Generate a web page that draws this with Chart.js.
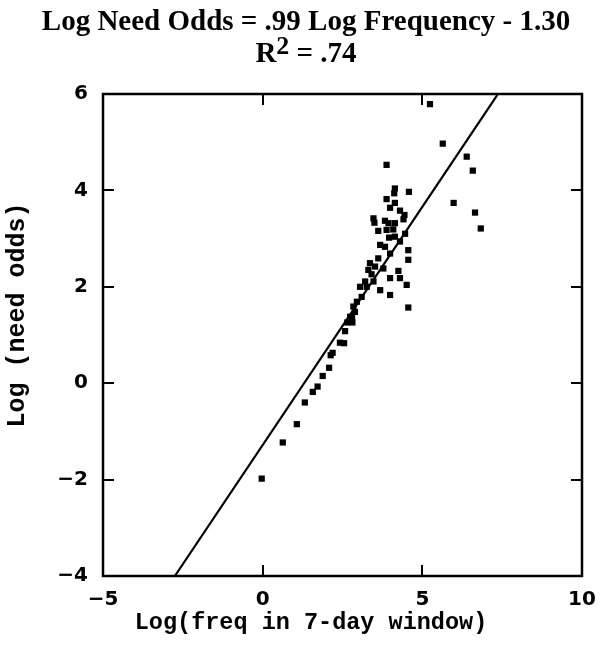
<!DOCTYPE html>
<html>
<head>
<meta charset="utf-8">
<script src="https://cdn.jsdelivr.net/npm/chart.js@4/dist/chart.umd.min.js"></script>
<style>
html,body{margin:0;padding:0;background:#fff;}
#wrap{width:603px;height:646px;}
</style>
</head>
<body>
<div id="wrap"><canvas id="c" width="603" height="646"></canvas></div>
<script>
const titleLine1 = "Log Need Odds = .99 Log Frequency - 1.30";
const titleLine2 = ["R", "2", " = .74"];
const xAxisTitle = "Log(freq in 7-day window)";
const yAxisTitle = "Log (need odds)";
const xTicks = [-5, 0, 5, 10];
const yTicks = [-4, -2, 0, 2, 4, 6];

const pointX = [5.24,5.64,3.88,6.39,6.58,5.98,6.65,6.83,
  4.14,4.58,4.12,3.88,4.14,3.99,4.30,4.44,4.41,3.47,3.50,3.83,3.94,4.14,3.62,3.88,4.09,3.96,4.46,
  4.14,4.30,3.68,3.83,4.56,3.99,3.62,4.56,3.36,3.52,3.78,4.25,3.31,3.41,3.99,4.30,3.21,3.47,3.05,3.26,3.68,4.51,3.99,3.10,2.95,2.84,4.56,2.89,2.74,
  2.80,2.81,2.65,2.58,2.42,2.55,2.19,2.13,2.08,1.88,1.72,1.57,1.32,1.07,0.63,-0.03];
const pointY = [5.79,4.97,4.53,4.70,4.41,3.74,3.54,3.21,
  4.04,3.97,3.94,3.82,3.74,3.64,3.58,3.49,3.40,3.42,3.33,3.37,3.32,3.32,3.16,3.18,3.19,3.02,3.10,
  3.04,2.94,2.87,2.83,2.76,2.69,2.59,2.56,2.49,2.42,2.38,2.33,2.35,2.26,2.18,2.18,2.11,2.11,2.00,2.00,1.93,2.04,1.83,1.79,1.69,1.59,1.57,1.48,1.38,
  1.37,1.26,1.26,1.08,0.84,0.83,0.63,0.58,0.32,0.15,-0.07,-0.18,-0.40,-0.85,-1.23,-1.98];
const fitX = [-2.75, 7.35];
const fitY = [-4.0, 5.98];

const pts = pointX.map((x, i) => ({x: x, y: pointY[i]}));
const fit = fitX.map((x, i) => ({x: x, y: fitY[i]}));

const fmtTick = v => (v < 0 ? '\u2212' + Math.abs(v) : String(v));

const framePlugin = {
  id: 'frame',
  afterDraw(chart) {
    const ctx = chart.ctx;
    const a = chart.chartArea;
    const xs = chart.scales.x, ys = chart.scales.y;
    ctx.save();
    ctx.strokeStyle = '#000';
    ctx.lineWidth = 2.5;
    ctx.strokeRect(a.left, a.top, a.right - a.left, a.bottom - a.top);
    ctx.lineWidth = 2;
    const tl = 11;
    ctx.beginPath();
    xTicks.forEach(v => {
      if (v === xs.min || v === xs.max) return;
      const px = Math.round(xs.getPixelForValue(v));
      ctx.moveTo(px, a.bottom); ctx.lineTo(px, a.bottom - tl);
      ctx.moveTo(px, a.top); ctx.lineTo(px, a.top + tl);
    });
    yTicks.forEach(v => {
      if (v === ys.min || v === ys.max) return;
      const py = Math.round(ys.getPixelForValue(v));
      ctx.moveTo(a.right, py); ctx.lineTo(a.right - tl, py);
      ctx.moveTo(a.left, py); ctx.lineTo(a.left + tl, py);
    });
    ctx.stroke();
    ctx.fillStyle = '#000';
    // chart title
    ctx.textBaseline = 'alphabetic';
    ctx.font = 'bold 29px "Liberation Serif", "Times New Roman", serif';
    ctx.textAlign = 'center';
    ctx.fillText(titleLine1, 306, 30);
    ctx.textAlign = 'left';
    const fBig = 'bold 29px "Liberation Serif", serif';
    const fSup = 'bold 26px "Liberation Serif", serif';
    ctx.font = fBig; const w1 = ctx.measureText(titleLine2[0]).width;
    ctx.font = fSup; const w2 = ctx.measureText(titleLine2[1]).width;
    ctx.font = fBig; const w3 = ctx.measureText(titleLine2[2]).width;
    let sx = 306 - (w1 + w2 + w3) / 2;
    ctx.font = fBig; ctx.fillText(titleLine2[0], sx, 62); sx += w1;
    ctx.font = fSup; ctx.fillText(titleLine2[1], sx, 54); sx += w2;
    ctx.font = fBig; ctx.fillText(titleLine2[2], sx, 62);
    // axis titles
    ctx.textBaseline = 'middle';
    ctx.textAlign = 'center';
    ctx.font = 'bold 23.5px "Liberation Mono", "Courier New", monospace';
    ctx.fillText(xAxisTitle, 311, 623);
    ctx.translate(18, 315);
    ctx.rotate(-Math.PI / 2);
    ctx.font = 'bold 25px "Liberation Mono", "Courier New", monospace';
    ctx.fillText(yAxisTitle, 0, 0);
    ctx.restore();
  }
};

const tickFont = {family: '"DejaVu Sans", Verdana, sans-serif', size: 20, weight: 'bold'};

new Chart(document.getElementById('c'), {
  type: 'scatter',
  data: {
    datasets: [
      {
        type: 'scatter',
        data: pts,
        pointStyle: 'rect',
        pointRadius: 4.4,
        pointBorderWidth: 0,
        backgroundColor: '#000',
        borderColor: '#000'
      },
      {
        type: 'line',
        data: fit,
        borderColor: '#000',
        borderWidth: 2.2,
        pointRadius: 0,
        fill: false,
        tension: 0
      }
    ]
  },
  options: {
    responsive: false,
    animation: false,
    layout: {padding: {left: 0, right: 21, top: 94, bottom: 0}},
    plugins: {legend: {display: false}, title: {display: false}, tooltip: {enabled: false}},
    scales: {
      x: {
        type: 'linear', min: -5, max: 10,
        afterBuildTicks: s => { s.ticks = xTicks.map(v => ({value: v})); },
        afterFit: s => { s.height = 70; s.paddingLeft = 0; s.paddingRight = 0; },
        grid: {display: false, drawTicks: false},
        border: {display: false},
        ticks: {color: '#000', font: tickFont, padding: 12, maxRotation: 0, callback: fmtTick},
        title: {display: false}
      },
      y: {
        type: 'linear', min: -4, max: 6,
        afterBuildTicks: s => { s.ticks = yTicks.map(v => ({value: v})); },
        afterFit: s => { s.width = 103; s.paddingTop = 0; s.paddingBottom = 0; },
        grid: {display: false, drawTicks: false},
        border: {display: false},
        ticks: {color: '#000', font: tickFont, padding: 15, callback: fmtTick},
        title: {display: false}
      }
    }
  },
  plugins: [framePlugin]
});
</script>
</body>
</html>
